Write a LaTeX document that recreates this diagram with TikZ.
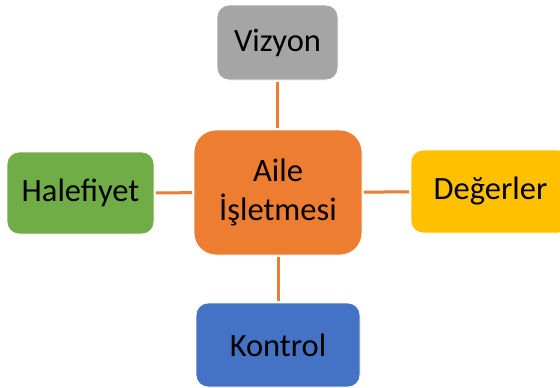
\documentclass[tikz,border=0pt]{standalone}
\usepackage{fontspec}
\setmainfont{Carlito}
\definecolor{cgray}{HTML}{A5A5A5}
\definecolor{corange}{HTML}{ED7D31}
\definecolor{cgreen}{HTML}{70AD47}
\definecolor{cyellow}{HTML}{FFC000}
\definecolor{cblue}{HTML}{4472C4}
\begin{document}
\begin{tikzpicture}[x=1pt,y=-1pt,
  box/.style={draw=white,line width=0.8pt,rounded corners=12pt,inner sep=0pt,
    align=center,font=\fontsize{32.5}{39}\selectfont,text=black},
  link/.style={draw=corange,line width=3pt,shorten <=1.5pt,shorten >=1.5pt}]
  \clip (0,0) rectangle (560,388);
  \fill[white] (0,0) rectangle (560,388);
  % central box and its four satellites
  \node[box,fill=corange,rounded corners=22pt,minimum width=168pt,minimum height=125pt]
    (ail) at (278,192.5) {Aile\\İşletmesi};
  \node[box,fill=cgray,minimum width=121pt,minimum height=75pt]
    (viz) at (277.5,42.5) {Vizyon};
  \node[box,fill=cgreen,minimum width=147pt,minimum height=82pt]
    (hal) at (80.5,193) {Halefiyet};
  \node[box,fill=cyellow,minimum width=159pt,minimum height=83pt]
    (deg) at (490.5,191.5) {Değerler};
  \node[box,fill=cblue,minimum width=164pt,minimum height=84pt]
    (kon) at (278,345) {Kontrol};
  % connectors
  \draw[link] (viz) -- (viz |- ail.north);
  \draw[link] (kon) -- (kon |- ail.south);
  \draw[link] (hal) -- (ail);
  \draw[link] (deg) -- (ail);
\end{tikzpicture}
\end{document}
